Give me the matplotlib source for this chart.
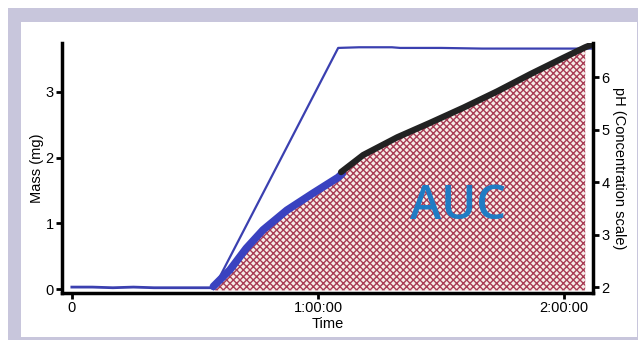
import numpy as np
import matplotlib.pyplot as plt
import matplotlib.patches as mpatches

# time in minutes, mass in mg
flat_t = [0, 5, 10, 15, 20, 25, 30, 34.5]
flat_m = [0.03, 0.03, 0.02, 0.03, 0.02, 0.02, 0.02, 0.02]

dose_t = [34.5, 64.9, 70, 78, 80, 90, 100, 110, 120, 126.5]
dose_m = [0.0, 3.67, 3.68, 3.68, 3.67, 3.67, 3.66, 3.66, 3.66, 3.66]

blue_t = [34.5, 38.5, 42.5, 46.6, 52.4, 58.8, 64.9, 65.9]
blue_m = [0.04, 0.29, 0.62, 0.90, 1.20, 1.46, 1.70, 1.76]

black_t = [65.6, 71.0, 79.3, 87.3, 95.4, 103.7, 111.7, 119.8, 125.1, 126.3]
black_m = [1.78, 2.04, 2.31, 2.53, 2.76, 3.01, 3.27, 3.52, 3.68, 3.71]

xticks = [0, 60, 120]
xlabels = ["0", "1:00:00", "2:00:00"]
mass_ticks = [0, 1, 2, 3]
ph_ticks = [2, 3, 4, 5, 6]

plt.rcParams['font.family'] = ['Liberation Sans', 'DejaVu Sans']
plt.rcParams['hatch.linewidth'] = 1.0

fig = plt.figure(figsize=(6.38, 3.40), dpi=100)
W, H = 638, 340
lav = '#c8c6dc'
fig.patches.append(mpatches.Rectangle((8 / W, 0), 630 / W, 332 / H, transform=fig.transFigure,
                                      facecolor=lav, edgecolor='none', zorder=-2))
fig.patches.append(mpatches.Rectangle((21 / W, 3 / H), 616 / W, 315 / H, transform=fig.transFigure,
                                      facecolor='white', edgecolor='none', zorder=-1))

ax = fig.add_axes([62 / W, 47 / H, 531 / W, 250 / H])
ax.patch.set_alpha(0)

# area under the curve
fill_t = blue_t[:-1] + black_t[:-1]
fill_m = blue_m[:-1] + black_m[:-1]
ax.fill_between(fill_t, -0.02, fill_m, facecolor='#f6ece8', edgecolor='#a83c55',
                hatch='xxxxx', linewidth=0, zorder=1)

ax.plot(flat_t, flat_m, color='#3b40b0', lw=2, zorder=3)
ax.plot(dose_t, dose_m, color='#3b40b0', lw=1.6, zorder=3)
ax.plot(blue_t, blue_m, color='#3a42c0', lw=5.5, solid_capstyle='round', zorder=4)
ax.plot(black_t, black_m, color='#222222', lw=4.5, solid_capstyle='round', zorder=4)

ax.text(94, 1.25, "AUC", color='#1f7cc4', fontsize=34, family='Open Sans',
        fontweight='semibold', ha='center', va='center', zorder=5)

ax.set_xlim(-2.4, 127)
ax.set_ylim(-0.06, 3.745)
ax.set_xticks(xticks)
ax.set_xticklabels(xlabels)
ax.set_yticks(mass_ticks)
ax.set_xlabel("Time", fontsize=10.5, labelpad=1)
ax.set_ylabel("Mass (mg)", fontsize=10.5, labelpad=1)
ax.spines['top'].set_visible(False)
ax.spines['right'].set_visible(False)
for s in ['left', 'bottom']:
    ax.spines[s].set_linewidth(2.5)
ax.tick_params(direction='out', length=4, width=2, labelsize=10.5, pad=2)

ax2 = ax.twinx()
ax2.set_ylim(1.89, 6.65)
ax2.set_yticks(ph_ticks)
ax2.set_ylabel("pH (Concentration scale)", fontsize=10.5, rotation=-90, labelpad=12)
ax2.spines['top'].set_visible(False)
ax2.spines['left'].set_visible(False)
ax2.spines['bottom'].set_visible(False)
ax2.spines['right'].set_linewidth(2.5)
ax2.tick_params(direction='out', length=4, width=2, labelsize=10.5, pad=2)

fig.savefig("out.png", dpi=100)
